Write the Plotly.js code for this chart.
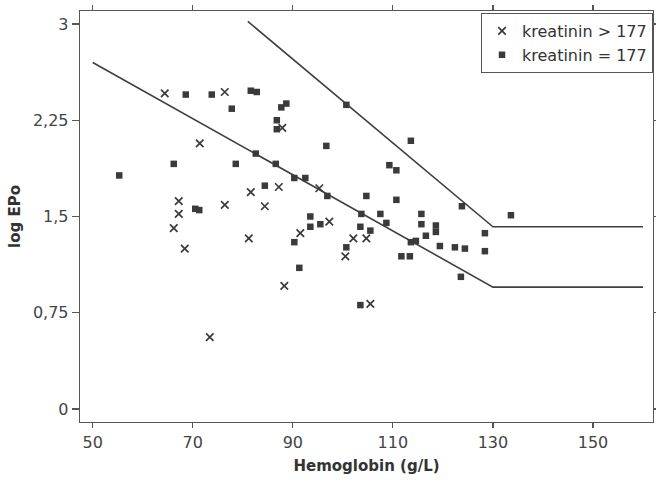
<!DOCTYPE html>
<html>
<head>
<meta charset="utf-8">
<script src="https://cdn.plot.ly/plotly-3.0.1.min.js"></script>
<style>html,body{margin:0;padding:0;background:#fff;}#chart{width:656px;height:486px;}</style>
</head>
<body>
<div id="chart"></div>
<script>
// kreatinin > 177 (x markers)
const hbHigh = [64.4, 76.4, 71.4, 67.2, 67.2, 66.2, 68.4, 73.4, 81.6, 87.2, 95.3, 76.4, 84.4, 81.2, 88.3, 91.5, 97.3, 100.5, 87.9, 102.1, 104.7, 105.5];
const epoHigh = [2.46, 2.47, 2.07, 1.62, 1.52, 1.41, 1.25, 0.56, 1.69, 1.73, 1.72, 1.59, 1.58, 1.33, 0.96, 1.37, 1.46, 1.19, 2.19, 1.33, 1.33, 0.82];

// kreatinin = 177 (square markers)
const hbEq = [70.5, 71.3, 68.6, 73.8, 66.2, 55.3, 81.6, 82.8, 77.8, 87.7, 88.7, 86.8, 86.8, 100.7, 96.7, 82.6, 78.6, 86.6, 90.3, 92.5, 84.4, 96.9, 91.3, 90.3, 93.5, 93.5, 95.5, 100.7, 113.6, 109.3, 110.7, 104.7, 110.7, 123.8, 103.7, 103.5, 105.5, 107.5, 108.7, 115.7, 115.7, 118.6, 118.6, 116.6, 133.6, 128.4, 128.4, 113.6, 114.6, 119.4, 122.4, 124.4, 111.7, 113.4, 123.6, 103.5];
const epoEq = [1.56, 1.55, 2.45, 2.45, 1.91, 1.82, 2.48, 2.47, 2.34, 2.35, 2.38, 2.25, 2.18, 2.37, 2.05, 1.99, 1.91, 1.91, 1.80, 1.80, 1.74, 1.66, 1.10, 1.30, 1.50, 1.42, 1.44, 1.26, 2.09, 1.90, 1.86, 1.66, 1.63, 1.58, 1.52, 1.42, 1.39, 1.52, 1.45, 1.52, 1.44, 1.43, 1.38, 1.35, 1.51, 1.37, 1.23, 1.30, 1.31, 1.27, 1.26, 1.25, 1.19, 1.19, 1.03, 0.81];

// reference limit lines
const upperX = [81, 130, 160];
const upperY = [3.02, 1.42, 1.42];
const lowerX = [50, 130, 160];
const lowerY = [2.70, 0.95, 0.95];

const xTicks = [50, 70, 90, 110, 130, 150];
const yTicks = [0, 0.75, 1.5, 2.25, 3];
const yTickText = ['0', '0,75', '1,5', '2,25', '3'];

const fontFam = '"DejaVu Sans", "Liberation Sans", Arial, sans-serif';
const ink = '#3a3a3a';

const traces = [
  {x: upperX, y: upperY, mode: 'lines', line: {color: '#3f3f3f', width: 1.6}, showlegend: false, hoverinfo: 'skip'},
  {x: lowerX, y: lowerY, mode: 'lines', line: {color: '#3f3f3f', width: 1.6}, showlegend: false, hoverinfo: 'skip'},
  {x: hbHigh, y: epoHigh, mode: 'markers', name: 'kreatinin > 177',
   marker: {symbol: 'x-thin', size: 7.5, line: {color: ink, width: 1.7}, color: ink}},
  {x: hbEq, y: epoEq, mode: 'markers', name: 'kreatinin = 177',
   marker: {symbol: 'square', size: 6.5, color: ink, line: {width: 0}}}
];

const layout = {
  width: 656, height: 486,
  margin: {l: 80, r: 3, t: 11, b: 64},
  paper_bgcolor: '#fff', plot_bgcolor: '#fff',
  font: {family: fontFam, size: 16, color: '#444'},
  xaxis: {
    range: [47.46, 162.0], tickvals: xTicks, ticktext: xTicks.map(String),
    ticks: 'outside', ticklen: 5, tickwidth: 1.2, tickcolor: '#555',
    showline: true, linecolor: '#555', linewidth: 1.3, mirror: 'ticks',
    showgrid: false, zeroline: false,
    tickfont: {family: fontFam, size: 16, color: '#444'},
    title: {text: '<b>Hemoglobin (g/L)</b>', font: {family: fontFam, size: 15, color: '#333'}, standoff: 10}
  },
  yaxis: {
    range: [-0.101, 3.101], tickvals: yTicks, ticktext: yTickText,
    ticks: 'outside', ticklen: 7, tickwidth: 1.2, tickcolor: '#555',
    showline: true, linecolor: '#555', linewidth: 1.3, mirror: 'ticks',
    showgrid: false, zeroline: false,
    tickfont: {family: fontFam, size: 16, color: '#444'},
    title: {text: '<b>log EPo</b>', font: {family: fontFam, size: 15, color: '#333'}, standoff: 8}
  },
  legend: {
    x: 1, xanchor: 'right', y: 0.995, yanchor: 'top',
    bgcolor: '#fff', bordercolor: '#555', borderwidth: 1,
    font: {family: fontFam, size: 16, color: '#333'},
    tracegroupgap: 0, itemwidth: 30
  },
  showlegend: true
};

Plotly.newPlot('chart', traces, layout, {displayModeBar: false, staticPlot: true});
</script>
</body>
</html>
